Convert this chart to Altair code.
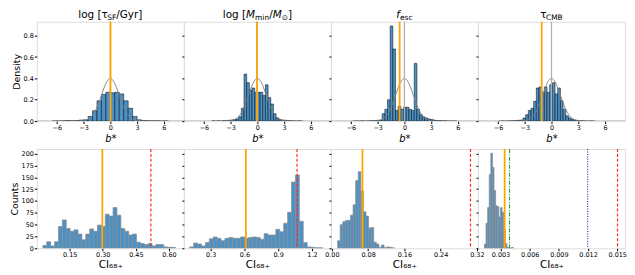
import altair as alt
import numpy as np
import pandas as pd

FONT = "DejaVu Sans"
BAR_FILL = "#4b91c6"
ORANGE = "#ffa500"
W, H = 148, 100

# ---------------- top row : density of b* ----------------
top_lo = [-6.5, -5.1, -5.8, -5.9]
top_w = [0.5, 0.3, 0.3, 0.3]
top_vals = [
    [0.002, 0.002, 0.003, 0.006, 0.004, 0.006, 0.010, 0.012, 0.044, 0.097, 0.19, 0.25, 0.27,
     0.265, 0.27, 0.255, 0.19, 0.12, 0.044, 0.012, 0.006, 0.004, 0.003, 0.004, 0.002, 0.002],
    [0.003, 0.0, 0.003, 0.0, 0.005, 0.003, 0.008, 0.010, 0.015,
     0.02, 0.04, 0.12, 0.44, 0.36, 0.29, 0.31, 0.27, 0.27, 0.27, 0.24, 0.34, 0.22, 0.16, 0.07, 0.03,
     0.015, 0.010, 0.008, 0.005, 0.004, 0.003, 0.0, 0.003, 0.0],
    [0.0, 0.002, 0.0, 0.003, 0.0, 0.002, 0.003, 0.004, 0.006, 0.008,
     0.01, 0.07, 0.11, 0.20, 0.89, 0.675, 0.10, 0.14, 0.11, 0.13, 0.13, 0.11, 0.10, 0.54, 0.11,
     0.06, 0.04, 0.03, 0.02, 0.015, 0.01, 0.005,
     0.005, 0.003, 0.004, 0.002, 0.0, 0.002, 0.0],
    [0.0, 0.002, 0.0, 0.002, 0.003, 0.004, 0.006, 0.008,
     0.01, 0.03, 0.06, 0.10, 0.12, 0.185, 0.31, 0.32, 0.27, 0.32, 0.27, 0.34, 0.36, 0.255, 0.31,
     0.19, 0.11, 0.05, 0.03, 0.015, 0.01,
     0.006, 0.004, 0.003, 0.002, 0.0, 0.002, 0.0],
]
top_orange = [0.02, -0.05, -0.54, -1.1]
top_gray = 0.0
top_xticks = [-6, -3, 0, 3, 6]
top_yticks = [0.0, 0.2, 0.4, 0.6, 0.8]

# ---------------- bottom row : counts of CI68+ ----------------
bot_lo = [0.0285, 0.114, 0.0128, 0.001347]
bot_w = [0.01767, 0.0348, 0.00569, 0.0001653]
bot_vals = [
    [6, 14, 5, 14, 46, 60, 42, 36, 39, 30, 18, 30, 41, 36, 49, 46, 72, 68, 86, 70,
     42, 36, 28, 30, 13, 10, 8, 10, 5, 8, 8, 3, 2, 2],
    [3, 11, 9, 5, 12, 20, 24, 21, 16, 21, 23, 21, 21, 24, 21, 23, 24, 23, 19, 31,
     28, 28, 40, 35, 53, 76, 140, 155, 57, 12, 3, 2, 1, 1],
    [16, 50, 56, 59, 59, 70, 92, 143, 162, 121, 77, 68, 43, 44, 13, 9, 2, 7, 1, 3, 2, 1],
    [9, 53, 86, 156, 201, 171, 122, 90, 88, 66, 86, 76, 40, 10, 2, 0, 0, 2],
]
bot_domains = [[0.001, 0.6675], [0.062, 1.369], [-0.002, 0.3225], [0.000686, 0.0158]]
bot_xticks = [[0.15, 0.30, 0.45, 0.60], [0.3, 0.6, 0.9, 1.2],
              [0.00, 0.08, 0.16, 0.24, 0.32], [0.003, 0.006, 0.009, 0.012, 0.015]]
bot_formats = [".2f", ".1f", ".2f", ".3f"]
bot_orange = [0.298, 0.613, 0.0676, 0.00343]
bot_red = [0.518, 1.068, 0.306, 0.01503]
p4_green = 0.00393
p4_blue = 0.01196
bot_yticks = [0, 25, 50, 75, 100, 125, 150, 175, 200]

# ---------------- panel titles (segments: text, kind) ----------------
titles = [
    [("log [τ", "n"), ("SF", "s"), ("/Gyr]", "n")],
    [("log [", "n"), ("M", "i"), ("min", "s"), ("/", "n"), ("M", "i"), ("⊙", "s"), ("]", "n")],
    [("f", "i"), ("esc", "s")],
    [("τ", "n"), ("CMB", "s")],
]

EM = {' ': 0.318, '[': 0.390, ']': 0.390, '/': 0.337, 'l': 0.278, 'o': 0.612, 'g': 0.635,
      'G': 0.775, 'y': 0.592, 'r': 0.411, 'S': 0.635, 'F': 0.575, 'M': 0.863, 'm': 0.974,
      'i': 0.278, 'n': 0.634, '⊙': 0.838, 'f': 0.352, 'e': 0.615, 's': 0.521, 'c': 0.550,
      'τ': 0.541, 'C': 0.698, 'B': 0.686}
T_FS, S_FS = 10.5, 7.5


def title_layers(segs):
    sizes = [S_FS if k == "s" else T_FS for _, k in segs]
    widths = [sum(EM.get(ch, 0.6) for ch in t) * fs for (t, _), fs in zip(segs, sizes)]
    x = W / 2 - sum(widths) / 2
    out = []
    one = pd.DataFrame({"k": [0]})
    for (t, k), fs, wd in zip(segs, sizes, widths):
        out.append(
            alt.Chart(one).mark_text(
                text=t, align="left", baseline="alphabetic", font=FONT, fontSize=fs,
                fontStyle="italic" if k == "i" else "normal", dy=2.5 if k == "s" else 0,
                color="black",
            ).encode(x=alt.value(x), y=alt.value(-4))
        )
        x += wd
    return out


def xenc(scale, axis):
    return alt.X("x:Q", scale=scale, axis=axis)


def top_panel(i):
    n = len(top_vals[i])
    k = np.arange(n)
    df = pd.DataFrame({"x": top_lo[i] + top_w[i] * k, "x2": top_lo[i] + top_w[i] * (k + 1),
                       "y": top_vals[i]})
    xs = alt.Scale(domain=[-8.25, 8.25], nice=False, zero=False)
    ys = alt.Scale(domain=[0, 0.93], nice=False, zero=False)
    xa = alt.Axis(values=top_xticks, format="d", title="b*", titleFontStyle="italic",
                  titleFontSize=10, titleFont=FONT, titleFontWeight="normal", titlePadding=3,
                  labelFontSize=6.5, labelFont=FONT, labelPadding=1, tickSize=2.5, domain=False,
                  grid=False, labelFlush=False, tickColor="black", labelColor="black")
    if i == 0:
        ya = alt.Axis(values=top_yticks, format=".1f", title="Density", titleFontSize=9.5,
                      titleFont=FONT, titleFontWeight="normal", titlePadding=2,
                      labelFontSize=6.5, labelFont=FONT, labelPadding=1, tickSize=2.5,
                      domain=False, grid=False, tickColor="black", labelColor="black")
    else:
        ya = alt.Axis(values=top_yticks, labels=False, title="", tickSize=2, domain=False,
                      grid=False, tickColor="black")
    bars = alt.Chart(df).mark_rect(fill=BAR_FILL, stroke="black", strokeWidth=0.5, clip=True).encode(
        x=xenc(xs, xa), x2="x2:Q", y=alt.Y("y:Q", scale=ys, axis=ya), y2=alt.datum(0))
    gx = np.linspace(-8.25, 8.25, 331)
    curve_df = pd.DataFrame({"x": gx, "y": np.exp(-0.5 * gx ** 2) / np.sqrt(2 * np.pi)})
    curve = alt.Chart(curve_df).mark_line(color="#808080", strokeWidth=1, clip=True).encode(
        x=xenc(xs, xa), y=alt.Y("y:Q", scale=ys, axis=ya))
    gray = alt.Chart(pd.DataFrame({"x": [top_gray]})).mark_rule(
        color="#b0b0b0", strokeWidth=1.3).encode(x=xenc(xs, xa))
    orange = alt.Chart(pd.DataFrame({"x": [top_orange[i]]})).mark_rule(
        color=ORANGE, strokeWidth=1.8).encode(x=xenc(xs, xa))
    layers = [bars, curve, gray, orange] + title_layers(titles[i])
    return alt.layer(*layers).properties(width=W, height=H)


def bot_panel(i):
    n = len(bot_vals[i])
    k = np.arange(n)
    df = pd.DataFrame({"x": bot_lo[i] + bot_w[i] * k, "x2": bot_lo[i] + bot_w[i] * (k + 1),
                       "y": bot_vals[i]})
    xs = alt.Scale(domain=bot_domains[i], nice=False, zero=False)
    ys = alt.Scale(domain=[0, 210], nice=False, zero=False)
    xa = alt.Axis(values=bot_xticks[i], format=bot_formats[i], title="CI₆₈₊",
                  titleFontSize=10.5, titleFont=FONT, titleFontWeight="normal", titlePadding=1,
                  labelFontSize=6.5, labelFont=FONT, labelPadding=1, tickSize=2.5, domain=False,
                  grid=False, labelFlush=False, labelOverlap=False, tickColor="black",
                  labelColor="black")
    if i == 0:
        ya = alt.Axis(values=bot_yticks, format="d", title="Counts", titleFontSize=9.5,
                      titleFont=FONT, titleFontWeight="normal", titlePadding=2,
                      labelFontSize=6.5, labelFont=FONT, labelPadding=1, tickSize=2.5,
                      domain=False, grid=False, tickColor="black", labelColor="black")
    else:
        ya = alt.Axis(values=bot_yticks, labels=False, title="", tickSize=2, domain=False,
                      grid=False, tickColor="black")
    bars = alt.Chart(df).mark_rect(fill=BAR_FILL, stroke="#8c8c8c", strokeWidth=0.7, clip=True).encode(
        x=xenc(xs, xa), x2="x2:Q", y=alt.Y("y:Q", scale=ys, axis=ya), y2=alt.datum(0))
    orange = alt.Chart(pd.DataFrame({"x": [bot_orange[i]]})).mark_rule(
        color=ORANGE, strokeWidth=1.8).encode(x=xenc(xs, xa))
    red = alt.Chart(pd.DataFrame({"x": [bot_red[i]]})).mark_rule(
        color="#ff2a2a", strokeWidth=1.2, strokeDash=[3, 2]).encode(x=xenc(xs, xa))
    layers = [bars, orange, red]
    if i == 3:
        green = alt.Chart(pd.DataFrame({"x": [p4_green]})).mark_rule(
            color="#2ca02c", strokeWidth=1.1, strokeDash=[4, 1.5, 1, 1.5]).encode(x=xenc(xs, xa))
        blue = alt.Chart(pd.DataFrame({"x": [p4_blue]})).mark_rule(
            color="#2a2a9a", strokeWidth=1.1, strokeDash=[1, 1.5]).encode(x=xenc(xs, xa))
        layers += [green, blue]
    return alt.layer(*layers).properties(width=W, height=H)


panels = [top_panel(i) for i in range(4)] + [bot_panel(i) for i in range(4)]
chart = alt.concat(*panels, columns=4, spacing={"row": 28, "column": 0}, bounds="flush").properties(
    padding=0
).configure_view(stroke="#444444", strokeWidth=0.9).configure(font=FONT)

chart.save("out.html", embed_options={"renderer": "svg", "actions": False})
